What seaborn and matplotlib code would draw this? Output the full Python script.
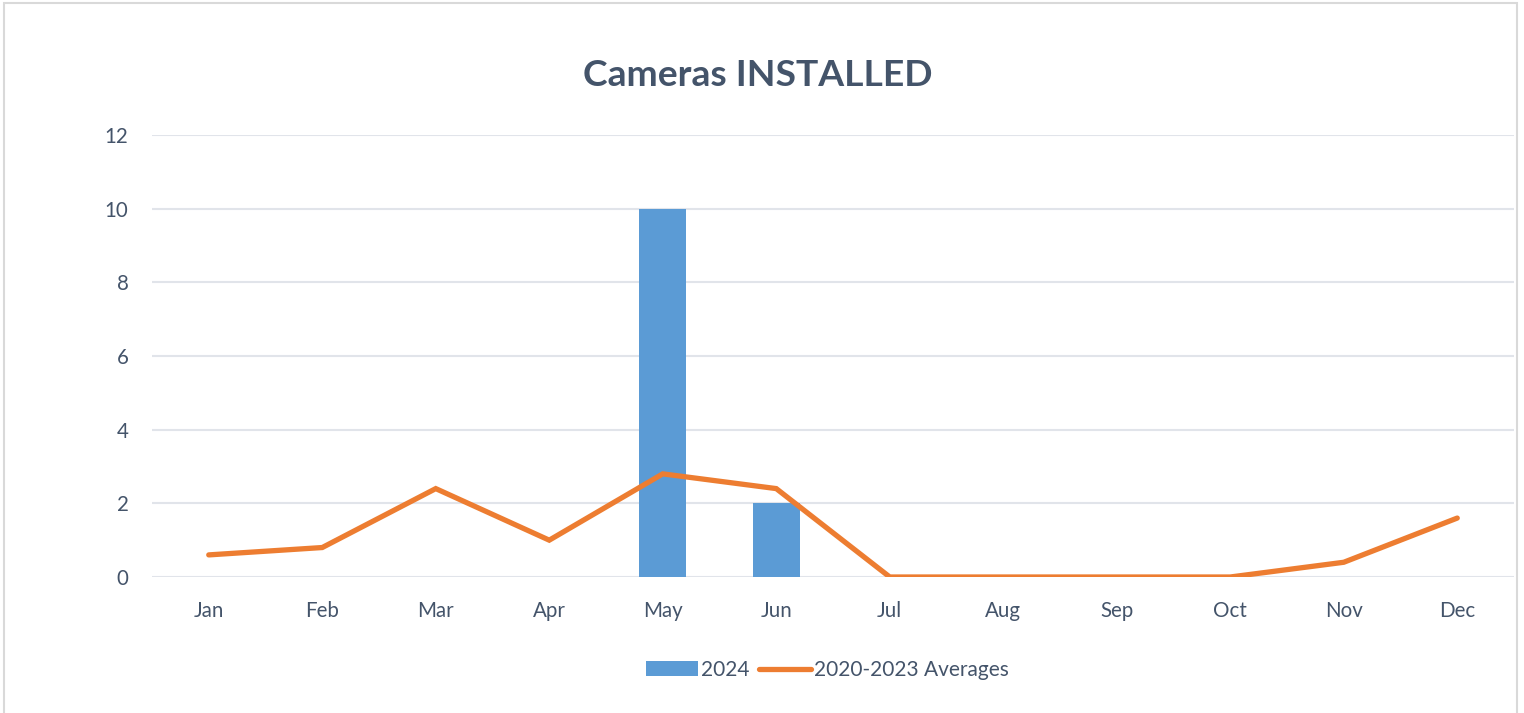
import numpy as np
import pandas as pd
import matplotlib
matplotlib.use("Agg")
import matplotlib.pyplot as plt
from matplotlib.patches import Rectangle
import seaborn as sns

months = ["Jan", "Feb", "Mar", "Apr", "May", "Jun", "Jul", "Aug", "Sep", "Oct", "Nov", "Dec"]
cams_2024 = [0, 0, 0, 0, 10, 2, 0, 0, 0, 0, 0, 0]
avg_2020_2023 = [0.6, 0.8, 2.4, 1.0, 2.8, 2.4, 0, 0, 0, 0, 0.4, 1.6]
yticks = [0, 2, 4, 6, 8, 10, 12]

text_col = "#44546A"
bar_col = "#5B9BD5"
line_col = "#ED7D31"
grid_col = "#E1E4EA"

sns.set_style("white")
plt.rcParams["font.family"] = ["Lato", "DejaVu Sans"]

df = pd.DataFrame({"month": months, "2024": cams_2024, "avg": avg_2020_2023})

fig = plt.figure(figsize=(15.24, 7.13), dpi=100)
ax = fig.add_axes([152 / 1524, 1 - 577 / 713, (1514 - 152) / 1524, (577 - 135) / 713])

sns.barplot(data=df, x="month", y="2024", color=bar_col, width=0.41,
            saturation=1, ax=ax, label="2024", zorder=2, linewidth=0)
sns.lineplot(x=np.arange(len(months)), y=df["avg"], color=line_col, lw=3.8,
             ax=ax, label="2020-2023 Averages", zorder=3,
             solid_capstyle="round", solid_joinstyle="miter")

ax.set_xlim(-0.5, len(months) - 0.5)
ax.set_ylim(0, 12)
ax.set_yticks(yticks)
ax.set_xlabel("")
ax.set_ylabel("")
for s in ax.spines.values():
    s.set_visible(False)
ax.grid(axis="y", color=grid_col, lw=1.5, zorder=0)
ax.set_axisbelow(True)
ax.tick_params(axis="both", length=0, labelsize=14.8, labelcolor=text_col)
ax.tick_params(axis="y", pad=17)
ax.tick_params(axis="x", pad=17)

ax.get_legend().remove()
h, l = ax.get_legend_handles_labels()
order = [l.index("2024"), l.index("2020-2023 Averages")]
fig.legend([h[i] for i in order], [l[i] for i in order], loc="center",
           bbox_to_anchor=(0.543, 1 - 670 / 713), ncol=2,
           frameon=False, fontsize=15, labelcolor=text_col, handlelength=2.5,
           handleheight=0.7, handletextpad=0.15, columnspacing=0.45)

fig.text(0.497, 1 - 75 / 713, "Cameras INSTALLED", ha="center", va="center",
         fontsize=26.8, fontweight="bold", color=text_col)

fig.patches.append(Rectangle((4 / 1524, -0.05), (1517 - 4) / 1524, 1.05 - 3 / 713,
                             transform=fig.transFigure, fill=False,
                             edgecolor="#D9D9D9", lw=1.5))

fig.savefig("out.png", dpi=100)
